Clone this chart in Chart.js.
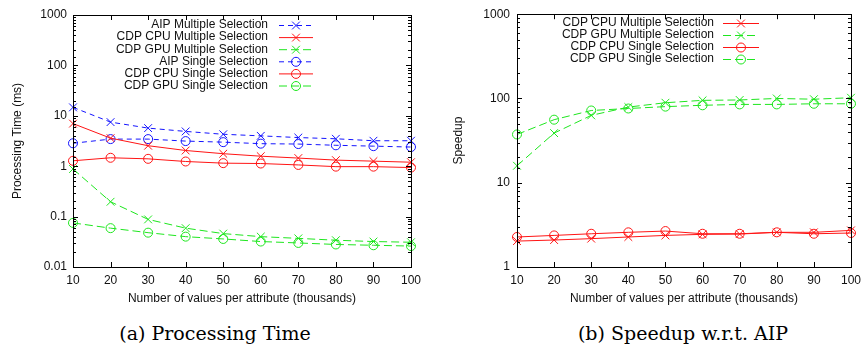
<!DOCTYPE html>
<html>
<head>
<meta charset="utf-8">
<script src="https://cdn.jsdelivr.net/npm/chart.js@4.4.1/dist/chart.umd.min.js"></script>
<style>
  html, body { margin: 0; padding: 0; background: #fff; }
  #page { position: relative; width: 867px; height: 352px; overflow: hidden; }
  canvas { position: absolute; top: 0; }
  #timeChart { left: 0; }
  #speedChart { left: 430px; }
  .caption {
    position: absolute; top: 322px;
    font-family: 'DejaVu Serif', serif; font-size: 19px; line-height: 22px;
    color: #000; white-space: nowrap; transform: translateX(-50%);
  }
</style>
</head>
<body>
<div id="page">
  <canvas id="timeChart" width="430" height="310"></canvas>
  <canvas id="speedChart" width="437" height="310"></canvas>
  <div class="caption" style="left:215px">(a) Processing Time</div>
  <div class="caption" style="left:683px">(b) Speedup w.r.t. AIP</div>
</div>
<script>
// values per attribute, in thousands
const thousands = [10, 20, 30, 40, 50, 60, 70, 80, 90, 100];

// processing time (ms)
const aipMultiTime  = [14.7, 7.5, 5.7, 4.9, 4.3, 4.0, 3.7, 3.5, 3.2, 3.2];
const cpuMultiTime  = [7.0, 3.6, 2.55, 2.05, 1.77, 1.58, 1.45, 1.32, 1.26, 1.2];
const gpuMultiTime  = [0.88, 0.197, 0.088, 0.059, 0.046, 0.040, 0.037, 0.034, 0.032, 0.031];
const aipSingleTime = [2.85, 3.45, 3.45, 3.15, 3.0, 2.8, 2.75, 2.6, 2.5, 2.4];
const cpuSingleTime = [1.28, 1.47, 1.4, 1.24, 1.15, 1.13, 1.06, 0.98, 0.98, 0.94];
const gpuSingleTime = [0.075, 0.059, 0.048, 0.040, 0.036, 0.032, 0.030, 0.028, 0.027, 0.026];

// speedup relative to AIP
const cpuMultiSpeed  = [2.03, 2.09, 2.17, 2.27, 2.37, 2.44, 2.46, 2.58, 2.58, 2.72];
const gpuMultiSpeed  = [15.9, 38.8, 63, 79, 89, 95, 96, 100, 98, 102];
const cpuSingleSpeed = [2.27, 2.37, 2.48, 2.58, 2.67, 2.48, 2.48, 2.58, 2.48, 2.53];
const gpuSingleSpeed = [37.4, 56, 72, 76, 80, 83, 85, 85, 86.5, 86.5];

const timeTickLabels  = [0.01, 0.1, 1, 10, 100, 1000];
const speedTickLabels = [1, 10, 100, 1000];

const BLUE = '#1414ff', RED = '#ff1414', GREEN = '#1ee61e';
const AIP_DASH = [5, 4], GPU_DASH = [8, 4];
const FONT = '"Liberation Sans", Arial, sans-serif';
const INK = '#111';

Chart.defaults.font.family = FONT;
Chart.defaults.font.size = 12;
Chart.defaults.color = INK;

function series(label, values, color, marker, dash) {
  return {
    label: label,
    data: values,
    borderColor: color,
    backgroundColor: 'rgba(0,0,0,0)',
    borderWidth: 1,
    borderDash: dash,
    pointStyle: marker,
    pointRadius: marker === 'crossRot' ? 5.5 : 4.5,
    pointBorderWidth: 1,
    pointBorderColor: color,
    pointBackgroundColor: 'rgba(0,0,0,0)',
    tension: 0,
    fill: false,
    clip: false
  };
}

function isPow10(v) {
  const e = Math.log10(v);
  return Math.abs(e - Math.round(e)) < 1e-6;
}

// gnuplot-style box with inward ticks on every side
const framePlugin = {
  id: 'frame',
  afterDraw(chart) {
    const {ctx, chartArea: a, scales: {x, y}} = chart;
    ctx.save();
    ctx.strokeStyle = '#000';
    ctx.lineWidth = 1;
    ctx.beginPath();
    x.ticks.forEach((t, i) => {
      const px = Math.round(x.getPixelForTick(i)) + 0.5;
      ctx.moveTo(px, a.bottom); ctx.lineTo(px, a.bottom - 5);
      ctx.moveTo(px, a.top); ctx.lineTo(px, a.top + 5);
    });
    y.ticks.forEach(t => {
      const py = Math.round(y.getPixelForValue(t.value)) + 0.5;
      const len = isPow10(t.value) ? 5 : 3;
      ctx.moveTo(a.left, py); ctx.lineTo(a.left + len, py);
      ctx.moveTo(a.right, py); ctx.lineTo(a.right - len, py);
    });
    ctx.stroke();
    ctx.strokeRect(Math.round(a.left) + 0.5, Math.round(a.top) + 0.5,
                   Math.round(a.right - a.left), Math.round(a.bottom - a.top));
    ctx.restore();
  }
};

// key in the upper part of the plot: right-aligned text, line sample to its right
const keyPlugin = {
  id: 'sideKey',
  afterDraw(chart, args, opts) {
    const ctx = chart.ctx;
    ctx.save();
    ctx.font = '12px ' + FONT;
    ctx.textAlign = 'right';
    ctx.textBaseline = 'middle';
    chart.data.datasets.forEach((ds, i) => {
      const y = opts.top + i * opts.step;
      ctx.fillStyle = INK;
      ctx.fillText(ds.label, opts.textRight, y);
      ctx.strokeStyle = ds.borderColor;
      ctx.lineWidth = 1;
      ctx.setLineDash(ds.borderDash || []);
      ctx.beginPath();
      ctx.moveTo(opts.lineFrom, y + 0.5);
      ctx.lineTo(opts.lineTo, y + 0.5);
      ctx.stroke();
      ctx.setLineDash([]);
      ctx.fillStyle = 'rgba(0,0,0,0)';
      Chart.helpers.drawPoint(ctx, {
        pointStyle: ds.pointStyle, radius: ds.pointRadius, rotation: 0, borderWidth: 1
      }, (opts.lineFrom + opts.lineTo) / 2, y + 0.5);
    });
    ctx.restore();
  }
};

function buildOptions(cfg) {
  return {
    responsive: false,
    animation: false,
    events: [],
    layout: { padding: { top: cfg.top, right: cfg.right, left: 0, bottom: 0 } },
    plugins: {
      legend: { display: false },
      tooltip: { enabled: false },
      sideKey: cfg.key
    },
    scales: {
      x: {
        type: 'category',
        offset: false,
        grid: { display: false, drawTicks: false },
        border: { display: false },
        ticks: { autoSkip: false, maxRotation: 0, padding: 6, color: INK },
        title: {
          display: true, text: 'Number of values per attribute (thousands)',
          color: INK, font: { size: 12 }, padding: { top: 0, bottom: 4 }
        },
        afterFit: s => { s.height = 43; }
      },
      y: {
        type: 'logarithmic',
        min: cfg.min,
        max: cfg.max,
        grid: { display: false, drawTicks: false },
        border: { display: false },
        ticks: {
          autoSkip: false, padding: cfg.tickPad, color: INK,
          callback: v => {
            const hit = cfg.labels.find(l => Math.abs(Math.log10(v) - Math.log10(l)) < 1e-6);
            return hit === undefined ? '' : String(hit);
          }
        },
        title: {
          display: true, text: cfg.yTitle, color: INK,
          font: { size: 12 }, padding: { top: cfg.titlePad, bottom: 0 }
        },
        afterFit: s => { s.width = cfg.yWidth; }
      }
    }
  };
}

new Chart(document.getElementById('timeChart'), {
  type: 'line',
  data: {
    labels: thousands.map(String),
    datasets: [
      series('AIP Multiple Selection', aipMultiTime, BLUE, 'crossRot', AIP_DASH),
      series('CDP CPU Multiple Selection', cpuMultiTime, RED, 'crossRot', []),
      series('CDP GPU Multiple Selection', gpuMultiTime, GREEN, 'crossRot', GPU_DASH),
      series('AIP Single Selection', aipSingleTime, BLUE, 'circle', AIP_DASH),
      series('CDP CPU Single Selection', cpuSingleTime, RED, 'circle', []),
      series('CDP GPU Single Selection', gpuSingleTime, GREEN, 'circle', GPU_DASH)
    ]
  },
  options: buildOptions({
    top: 15, right: 19, yWidth: 73, tickPad: 6, titlePad: 10,
    min: 0.01, max: 1000, labels: timeTickLabels, yTitle: 'Processing Time (ms)',
    key: { textRight: 268, lineFrom: 279, lineTo: 313, top: 25, step: 12.1 }
  }),
  plugins: [framePlugin, keyPlugin]
});

new Chart(document.getElementById('speedChart'), {
  type: 'line',
  data: {
    labels: thousands.map(String),
    datasets: [
      series('CDP CPU Multiple Selection', cpuMultiSpeed, RED, 'crossRot', []),
      series('CDP GPU Multiple Selection', gpuMultiSpeed, GREEN, 'crossRot', GPU_DASH),
      series('CDP CPU Single Selection', cpuSingleSpeed, RED, 'circle', []),
      series('CDP GPU Single Selection', gpuSingleSpeed, GREEN, 'circle', GPU_DASH)
    ]
  },
  options: buildOptions({
    top: 13, right: 11, yWidth: 87, tickPad: 7, titlePad: 21,
    min: 1, max: 1000, labels: speedTickLabels, yTitle: 'Speedup',
    key: { textRight: 284, lineFrom: 293, lineTo: 329, top: 23, step: 12 }
  }),
  plugins: [framePlugin, keyPlugin]
});
</script>
</body>
</html>
